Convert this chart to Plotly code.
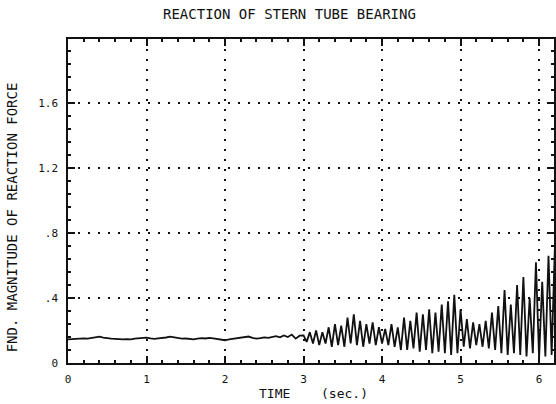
import plotly.graph_objects as go

# ---- data ----
# steady part (0 - 2.95 s)
t_base = [0.00, 0.05, 0.10, 0.15, 0.20, 0.25, 0.30, 0.35, 0.40, 0.45, 0.50, 0.55,
          0.60, 0.65, 0.70, 0.75, 0.80, 0.85, 0.90, 0.95, 1.00, 1.05, 1.10, 1.15,
          1.20, 1.25, 1.30, 1.35, 1.40, 1.45, 1.50, 1.55, 1.60, 1.65, 1.70, 1.75,
          1.80, 1.85, 1.90, 1.95, 2.00, 2.05, 2.10, 2.15, 2.20, 2.25, 2.30, 2.35,
          2.40, 2.45, 2.50, 2.55, 2.60, 2.65, 2.70, 2.75, 2.80, 2.85, 2.90, 2.95]
f_base = [0.145, 0.147, 0.146, 0.150, 0.152, 0.150, 0.154, 0.158, 0.162, 0.156, 0.152, 0.150,
          0.149, 0.146, 0.145, 0.147, 0.146, 0.150, 0.152, 0.155, 0.156, 0.151, 0.149, 0.152,
          0.153, 0.157, 0.162, 0.158, 0.154, 0.150, 0.151, 0.148, 0.146, 0.150, 0.153, 0.151,
          0.155, 0.152, 0.147, 0.144, 0.140, 0.145, 0.149, 0.152, 0.156, 0.160, 0.163, 0.155,
          0.150, 0.153, 0.158, 0.155, 0.160, 0.165, 0.158, 0.170, 0.160, 0.175, 0.150, 0.168]

# oscillating part (peaks / troughs, 3.0 - 6.2 s)
t_osc = [3.00, 3.04, 3.08, 3.12, 3.16, 3.20, 3.24, 3.28, 3.32, 3.36, 3.40, 3.44,
         3.48, 3.52, 3.56, 3.60, 3.64, 3.68, 3.72, 3.76, 3.80, 3.84, 3.88, 3.92,
         3.96, 4.00, 4.04, 4.08, 4.12, 4.16, 4.20, 4.24, 4.28, 4.32, 4.36, 4.40,
         4.44, 4.48, 4.52, 4.56, 4.60, 4.64, 4.68, 4.72, 4.76, 4.80, 4.84, 4.88,
         4.92, 4.96, 5.00, 5.04, 5.08, 5.12, 5.16, 5.20, 5.24, 5.28, 5.32, 5.36,
         5.40, 5.44, 5.48, 5.52, 5.56, 5.60, 5.64, 5.68, 5.72, 5.76, 5.80, 5.84,
         5.88, 5.92, 5.96, 6.00, 6.04, 6.08, 6.12, 6.16, 6.20]
f_osc = [0.17, 0.13, 0.19, 0.12, 0.20, 0.11, 0.19, 0.12, 0.22, 0.10, 0.24, 0.11,
         0.23, 0.10, 0.28, 0.12, 0.30, 0.11, 0.26, 0.10, 0.24, 0.12, 0.25, 0.11,
         0.22, 0.12, 0.21, 0.11, 0.24, 0.10, 0.22, 0.08, 0.28, 0.08, 0.26, 0.09,
         0.31, 0.07, 0.30, 0.08, 0.33, 0.06, 0.31, 0.07, 0.36, 0.06, 0.38, 0.05,
         0.42, 0.06, 0.33, 0.10, 0.27, 0.09, 0.25, 0.11, 0.24, 0.10, 0.26, 0.09,
         0.31, 0.08, 0.35, 0.06, 0.45, 0.05, 0.36, 0.06, 0.48, 0.05, 0.53, 0.04,
         0.40, 0.06, 0.62, 0.03, 0.50, 0.04, 0.66, 0.05, 0.70]

x_ticks = [0, 1, 2, 3, 4, 5, 6]
x_labels = ["0", "1", "2", "3", "4", "5", "6"]
y_ticks = [0, 0.4, 0.8, 1.2, 1.6]
y_labels = ["0", ".4", ".8", "1.2", "1.6"]

FONT = "DejaVu Sans Mono"
INK = "#111111"

fig = go.Figure()
fig.add_trace(go.Scatter(x=t_base + t_osc, y=f_base + f_osc, mode="lines",
                         line=dict(color=INK, width=1.8), hoverinfo="skip"))

axis_common = dict(showline=True, linecolor=INK, linewidth=1.5, mirror="allticks",
                   ticks="inside", tickcolor=INK, tickwidth=1.5, ticklen=7,
                   showgrid=True, gridcolor=INK, gridwidth=1.5, griddash="2px,8px",
                   zeroline=False,
                   tickfont=dict(family=FONT, size=11, color=INK))

fig.update_xaxes(range=[0, 6.19], tickvals=x_ticks, ticktext=x_labels,
                 minor=dict(dtick=0.2, ticks="inside", ticklen=3, tickcolor=INK,
                            tickwidth=1.5, showgrid=False),
                 ticklabelstandoff=5, **axis_common)
fig.update_yaxes(range=[0, 1.995], tickvals=y_ticks, ticktext=y_labels,
                 minor=dict(dtick=0.08, ticks="inside", ticklen=3, tickcolor=INK,
                            tickwidth=1.5, showgrid=False),
                 ticklabelstandoff=6, **axis_common)

fig.add_annotation(text="REACTION OF STERN TUBE BEARING", xref="paper", yref="paper",
                   x=0.455, y=1.077, xanchor="center", yanchor="middle", showarrow=False,
                   font=dict(family=FONT, size=14, color=INK))
# x-axis title, drawn in two parts around the "3" tick label as in the reference
fig.add_annotation(text="TIME", xref="paper", yref="paper",
                   x=0.424, y=-0.095, xanchor="center", yanchor="middle", showarrow=False,
                   font=dict(family=FONT, size=13, color=INK))
fig.add_annotation(text="(sec.)", xref="paper", yref="paper",
                   x=0.568, y=-0.095, xanchor="center", yanchor="middle", showarrow=False,
                   font=dict(family=FONT, size=13, color=INK))
fig.add_annotation(text="FND. MAGNITUDE OF REACTION FORCE", xref="paper", yref="paper",
                   x=-0.115, y=0.45, xanchor="center", yanchor="middle", showarrow=False,
                   textangle=-90, font=dict(family=FONT, size=14, color=INK))

fig.update_layout(width=556, height=404, margin=dict(l=68, r=0, t=39, b=41),
                  paper_bgcolor="white", plot_bgcolor="white", showlegend=False)

fig.write_html("out.html")
